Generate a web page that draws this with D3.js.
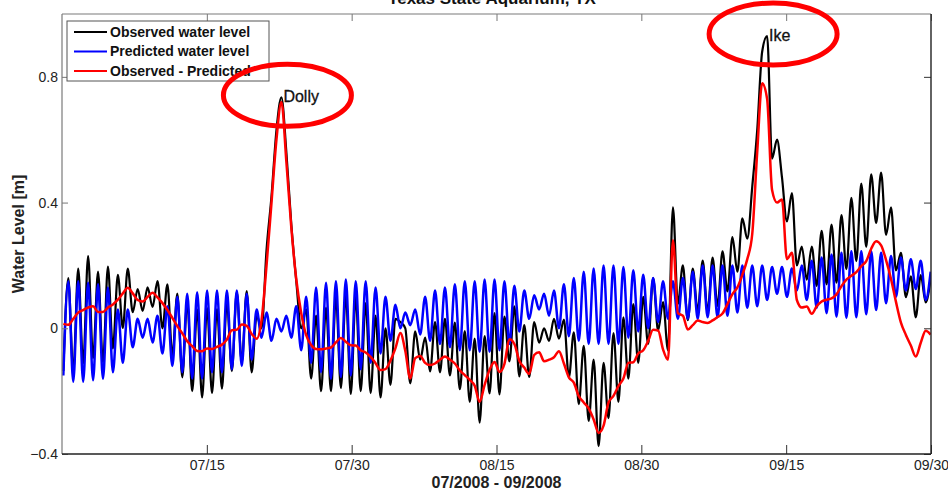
<!DOCTYPE html>
<html><head><meta charset="utf-8">
<script src="https://cdn.jsdelivr.net/npm/d3@7"></script>
<style>body{margin:0;background:#fff;} svg{display:block;font-family:"Liberation Sans",Arial,sans-serif;}</style>
</head><body>
<svg id="chart" width="948" height="492"></svg>
<script>
const title = "Texas State Aquarium, TX";
const xTitle = "07/2008 - 09/2008";
const yTitle = "Water Level [m]";
const tickLabels = ["07/15","07/30","08/15","08/30","09/15","09/30"];
const yTicks = [-0.4, 0, 0.4, 0.8];
const totalDays = 91;
const startDay = 0.14;
const stepDays = 0.519;
const seriesNames = ["Observed water level","Predicted water level","Observed - Predicted"];
const seriesColors = ["#000000","#0000ff","#ff0000"];

const observed = [
-0.136,0.16,-0.14,0.19,-0.112,0.23,-0.095,0.18,-0.108,0.196,
-0.064,0.17,0.001,0.19,0.051,0.125,0.055,0.13,0.068,0.15,
0.0,0.14,-0.087,0.11,-0.156,0.085,-0.2,0.06,-0.22,0.065,
-0.206,0.061,-0.192,0.084,-0.136,0.115,-0.108,0.118,-0.14,0.04,
0.0,0.25,0.42,0.63,0.735,0.56,0.33,0.15,0.0,0.06,
-0.16,0.04,-0.2,0.066,-0.2,0.1,-0.19,0.107,-0.209,0.1,
-0.2,0.08,-0.206,0.04,-0.22,0.0,-0.18,0.03,0.02,0.0,
-0.175,-0.01,-0.1,-0.03,-0.137,0.02,-0.14,0.03,-0.15,0.018,
-0.194,-0.009,-0.234,-0.033,-0.3,-0.025,-0.207,0.048,-0.21,0.037,
-0.105,0.07,-0.153,0.01,-0.155,0.02,-0.046,0.0,-0.04,0.03,
-0.033,0.028,-0.156,-0.013,-0.241,-0.056,-0.295,-0.1,-0.375,-0.11,
-0.286,-0.015,-0.234,0.035,-0.16,0.077,-0.11,0.1,-0.05,0.16,
-0.007,0.083,-0.07,0.385,0.078,0.2,0.026,0.19,0.055,0.215,
0.052,0.225,0.071,0.245,0.117,0.29,0.18,0.35,0.285,0.45,
0.63,0.88,0.93,0.54,0.6,0.48,0.34,0.43,0.2,0.26,
0.155,0.26,0.135,0.31,0.14,0.33,0.145,0.36,0.188,0.415,
0.214,0.46,0.259,0.49,0.335,0.495,0.297,0.385,0.184,0.24,
0.099,0.165,0.035,0.169,0.082,0.16
];

const predicted = [
-0.15,0.15,-0.17,0.15,-0.17,0.145,-0.165,0.14,-0.16,0.13,
-0.14,0.06,-0.11,0.06,-0.06,0.03,-0.03,0.03,-0.045,0.04,
-0.08,0.07,-0.12,0.1,-0.14,0.11,-0.16,0.115,-0.16,0.12,
-0.14,0.12,-0.14,0.12,-0.13,0.12,-0.12,0.11,-0.1,0.06,
-0.03,0.05,-0.04,0.03,-0.01,0.04,-0.03,0.07,-0.07,0.1,
-0.11,0.13,-0.14,0.145,-0.16,0.15,-0.155,0.155,-0.15,0.15,
-0.13,0.15,-0.11,0.13,-0.08,0.1,-0.04,0.075,0.0,0.05,
0.01,0.06,-0.02,0.1,-0.04,0.12,-0.05,0.13,-0.06,0.14,
-0.07,0.15,-0.07,0.15,-0.075,0.155,-0.075,0.155,-0.07,0.15,
-0.05,0.135,-0.01,0.12,0.03,0.105,0.06,0.11,0.04,0.12,
0.0,0.14,-0.025,0.16,-0.04,0.18,-0.05,0.19,-0.05,0.2,
-0.05,0.2,-0.05,0.195,-0.03,0.185,-0.01,0.17,0.0,0.16,
0.02,0.15,0.03,0.15,0.03,0.16,0.03,0.18,0.03,0.2,
0.035,0.2,0.035,0.2,0.04,0.2,0.05,0.2,0.065,0.2,
0.07,0.2,0.09,0.195,0.11,0.195,0.1,0.19,0.12,0.2,
0.09,0.215,0.065,0.225,0.048,0.235,0.037,0.24,0.033,0.245,
0.035,0.245,0.045,0.245,0.058,0.24,0.08,0.23,0.1,0.225,
0.12,0.22,0.125,0.215,0.09,0.18
];

const residual = [
0.014,0.011,0.03,0.05,0.058,0.066,0.07,0.052,0.052,0.066,
0.076,0.091,0.111,0.129,0.111,0.09,0.085,0.1,0.113,0.098,
0.08,0.058,0.033,0.007,-0.016,-0.041,-0.057,-0.072,-0.073,-0.064,
-0.066,-0.059,-0.052,-0.036,-0.006,-0.005,0.012,0.008,-0.018,-0.033,
0.027,0.2,0.4,0.6,0.72,0.53,0.32,0.156,0.048,-0.022,
-0.053,-0.066,-0.067,-0.064,-0.061,-0.045,-0.031,-0.043,-0.054,-0.055,
-0.07,-0.077,-0.091,-0.111,-0.133,-0.13,-0.103,-0.064,-0.015,-0.072,
-0.16,-0.095,-0.088,-0.11,-0.117,-0.112,-0.1,-0.09,-0.1,-0.112,
-0.134,-0.149,-0.164,-0.183,-0.234,-0.18,-0.132,-0.107,-0.139,-0.113,
-0.035,-0.05,-0.103,-0.125,-0.145,-0.085,-0.076,-0.105,-0.1,-0.092,
-0.073,-0.112,-0.156,-0.173,-0.216,-0.236,-0.255,-0.29,-0.333,-0.31,
-0.236,-0.215,-0.184,-0.16,-0.11,-0.108,-0.08,-0.07,-0.04,-0.005,
-0.007,-0.067,-0.1,0.28,0.048,0.04,-0.004,0.01,0.025,0.02,
0.017,0.025,0.036,0.047,0.077,0.109,0.13,0.17,0.22,0.3,
0.56,0.78,0.73,0.44,0.4,0.41,0.22,0.24,0.09,0.066,
0.069,0.046,0.07,0.085,0.091,0.095,0.108,0.134,0.155,0.167,
0.179,0.198,0.214,0.253,0.277,0.264,0.217,0.157,0.084,0.018,
-0.021,-0.055,-0.09,-0.046,-0.008,-0.02
];

const stormNames = ["Dolly","Ike"];
const stormSampleIndex = [44, 142];

const svg = d3.select("#chart");
const W = 948, H = 492;
const m = {left: 62, right: 17, top: 14, bottom: 38};
const pw = W - m.left - m.right, ph = H - m.top - m.bottom;

const x = d3.scaleLinear().domain([0, totalDays]).range([m.left, m.left + pw]);
const y = d3.scaleLinear().domain([-0.4, 1.0]).range([m.top + ph, m.top]);
const tickVals = tickLabels.map((_, i) => (i + 1) * totalDays / tickLabels.length);
const tOf = i => startDay + i * stepDays;

svg.append("defs").append("clipPath").attr("id","clip")
  .append("rect").attr("x", m.left).attr("y", m.top).attr("width", pw).attr("height", ph);

// series
const line = d3.line().x((d, i) => x(tOf(i))).y(d => y(d)).curve(d3.curveMonotoneX);
const plot = svg.append("g").attr("clip-path","url(#clip)");
const allSeries = [observed, predicted, residual];
const widths = [2.2, 2.5, 2.5];
allSeries.forEach((s, j) => {
  plot.append("path").datum(s).attr("d", line)
    .attr("fill","none").attr("stroke", seriesColors[j])
    .attr("stroke-width", widths[j]).attr("stroke-linejoin","round");
});

// axes
const fontSize = 14;
const bottomAxis = svg.append("g").attr("transform", `translate(0,${m.top+ph})`)
  .call(d3.axisBottom(x).tickValues(tickVals).tickFormat((d,i)=>tickLabels[i]).tickSizeInner(-9).tickSizeOuter(0).tickPadding(6));
const topAxis = svg.append("g").attr("transform", `translate(0,${m.top})`)
  .call(d3.axisTop(x).tickValues(tickVals).tickFormat("").tickSizeInner(-7).tickSizeOuter(0));
const leftAxis = svg.append("g").attr("transform", `translate(${m.left},0)`)
  .call(d3.axisLeft(y).tickValues(yTicks).tickFormat(d => d === 0 ? "0" : d3.format(".1f")(d)).tickSizeInner(-6).tickSizeOuter(0).tickPadding(4));
const rightAxis = svg.append("g").attr("transform", `translate(${m.left+pw},0)`)
  .call(d3.axisRight(y).tickValues(yTicks).tickFormat("").tickSizeInner(-7).tickSizeOuter(0));
[bottomAxis, topAxis, leftAxis, rightAxis].forEach(g => {
  g.select(".domain").remove();
  g.selectAll("text").attr("font-size", fontSize).attr("fill","#222").attr("font-family","'Liberation Sans',Arial,sans-serif");
});
topAxis.selectAll("line").attr("stroke","#777");
leftAxis.selectAll("line").attr("stroke","#777");
bottomAxis.selectAll("line").attr("stroke","#333");
rightAxis.selectAll("line").attr("stroke","#333");

// frame
const fr = svg.append("g").attr("fill","none");
fr.append("line").attr("x1", m.left).attr("x2", m.left+pw).attr("y1", m.top).attr("y2", m.top).attr("stroke","#7a7a7a").attr("stroke-width",1.2);
fr.append("line").attr("x1", m.left).attr("x2", m.left).attr("y1", m.top).attr("y2", m.top+ph).attr("stroke","#7a7a7a").attr("stroke-width",1.2);
fr.append("line").attr("x1", m.left).attr("x2", m.left+pw).attr("y1", m.top+ph).attr("y2", m.top+ph).attr("stroke","#222").attr("stroke-width",1.4);
fr.append("line").attr("x1", m.left+pw).attr("x2", m.left+pw).attr("y1", m.top).attr("y2", m.top+ph).attr("stroke","#222").attr("stroke-width",1.4);

// titles
svg.append("text").attr("x", 492).attr("y", 4).attr("text-anchor","middle")
  .attr("font-size", 17).attr("font-weight","bold").attr("fill","#111").text(title);
svg.append("text").attr("x", m.left + pw/2).attr("y", 488).attr("text-anchor","middle")
  .attr("font-size", 16).attr("font-weight","bold").attr("fill","#222").text(xTitle);
svg.append("text").attr("transform", `translate(24,${m.top+ph/2}) rotate(-90)`).attr("text-anchor","middle")
  .attr("font-size", 16).attr("font-weight","bold").attr("fill","#222").text(yTitle);

// legend
const lg = svg.append("g");
lg.append("rect").attr("x", 67).attr("y", 21).attr("width", 202).attr("height", 60)
  .attr("fill","#fff").attr("stroke","#555").attr("stroke-width",1);
seriesNames.forEach((name, i) => {
  const yy = 32 + i * 19.5;
  lg.append("line").attr("x1", 74).attr("x2", 107).attr("y1", yy).attr("y2", yy)
    .attr("stroke", seriesColors[i]).attr("stroke-width", 2);
  lg.append("text").attr("x", 110).attr("y", yy).attr("dy","0.35em")
    .attr("font-size", 14).attr("font-weight","bold").attr("fill","#111").text(name);
});

// storm annotations
stormNames.forEach((name, i) => {
  const k = stormSampleIndex[i];
  const px = x(tOf(k)), py = y(observed[k]);
  svg.append("ellipse").attr("cx", px + 6).attr("cy", py - 2).attr("rx", 64).attr("ry", 31)
    .attr("fill","none").attr("stroke","#ff0000").attr("stroke-width", 5);
  svg.append("text").attr("x", px + 2).attr("y", py + 5)
    .attr("font-size", 16).attr("fill","#111").attr("stroke","#111").attr("stroke-width",0.3).text(name);
});
</script>
</body></html>
